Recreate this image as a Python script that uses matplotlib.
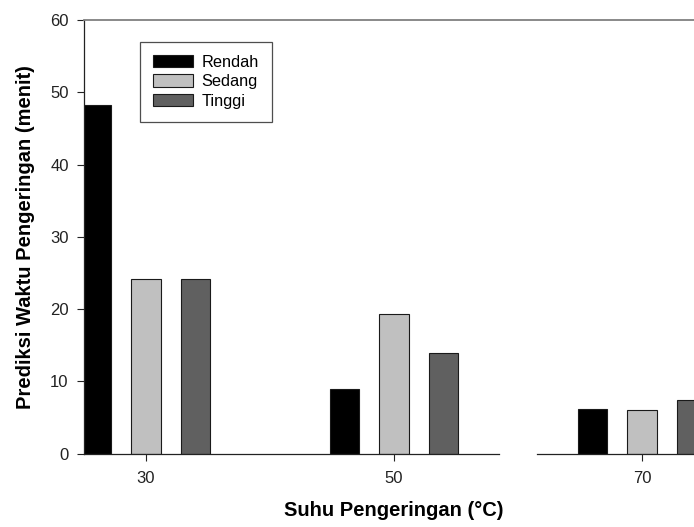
import numpy as np
from matplotlib import pyplot as plt

plt.rcParams['font.family'] = ['Liberation Sans', 'DejaVu Sans']

# data
suhu = [30, 50, 70]
rendah = [48.3, 8.9, 6.2]
sedang = [24.2, 19.3, 6.05]
tinggi = [24.2, 13.9, 7.4]
labels = ['Rendah', 'Sedang', 'Tinggi']
colors = ['#000000', '#c0c0c0', '#606060']

fig = plt.figure(figsize=(6.94, 5.27), dpi=100)
ax = fig.add_axes([0.121, 0.1389, 0.8934, 0.8232])

x = np.array(suhu, dtype=float)
w = 2.4
for off, vals, lab, col in zip([-4, 0, 4], [rendah, sedang, tinggi], labels, colors):
    ax.bar(x + off, vals, width=w, color=col, edgecolor='#1a1a1a', linewidth=0.8, label=lab)

ax.set_xlim(25, 75)
ax.set_ylim(0, 60)
ax.set_xticks(suhu)
ax.set_yticks(np.arange(0, 61, 10))
ax.tick_params(axis='both', direction='out', length=5, width=0.8, labelsize=12, colors='#222222')
ax.tick_params(axis='y', pad=6)
ax.tick_params(axis='x', pad=7.5)

# spines: grey top, black left, broken bottom axis
ax.spines['right'].set_visible(False)
ax.spines['top'].set_color('#808080')
ax.spines['top'].set_linewidth(1.3)
ax.spines['left'].set_color('#222222')
ax.spines['left'].set_linewidth(0.9)
ax.spines['bottom'].set_visible(False)
for a, b in [(25, 58.5), (61.5, 75)]:
    ax.plot([a, b], [0, 0], color='#222222', lw=0.9, clip_on=False, zorder=3)

ax.set_xlabel('Suhu Pengeringan (°C)', fontsize=14.5, fontweight='bold', labelpad=11)
ax.set_ylabel('Prediksi Waktu Pengeringan (menit)', fontsize=14.5, fontweight='bold', labelpad=11)

leg = ax.legend(loc='upper left', bbox_to_anchor=(0.2017, 0.9209), bbox_transform=fig.transFigure,
                borderaxespad=0, fontsize=11.8, frameon=True, fancybox=False, shadow=False,
                handlelength=2.42, handleheight=0.78, handletextpad=0.55, labelspacing=0.27,
                borderpad=0.8)
leg.get_frame().set_edgecolor('#222222')
leg.get_frame().set_linewidth(0.9)

fig.savefig('out.png', dpi=100)
